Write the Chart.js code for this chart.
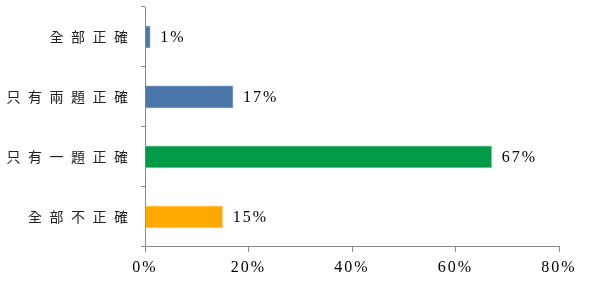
<!DOCTYPE html>
<html>
<head>
<meta charset="utf-8">
<script src="https://cdn.jsdelivr.net/npm/chart.js@4.4.0/dist/chart.umd.min.js"></script>
<style>
    html, body { margin: 0; padding: 0; background: #fff; }
    #wrap { width: 590px; height: 287px; }
</style>
</head>
<body>
<div id="wrap"><canvas id="answerChart"></canvas></div>
<script>
const categories = ["全部正確", "只有兩題正確", "只有一題正確", "全部不正確"];
const percents = [1, 17, 67, 15];
const barColors = ["#4a76aa", "#4a76aa", "#009a49", "#ffa800"];
const borderColors = ["#7d9fc8", "#7d9fc8", "#7fcf9f", "#ffd27a"];
const xTicks = [0, 20, 40, 60, 80];

// a bit of letter spacing, like the original
const spacing = {
    id: "spacing",
    beforeDraw(chart) {
        chart.ctx.letterSpacing = "2px";
    },
};

// draws "17%" etc. to the right of each bar
const valueLabels = {
    id: "valueLabels",
    afterDatasetsDraw(chart) {
        const ctx = chart.ctx;
        const meta = chart.getDatasetMeta(0);
        ctx.save();
        ctx.font = "16px 'Liberation Serif'";
        ctx.fillStyle = "#000";
        ctx.textBaseline = "middle";
        ctx.textAlign = "left";
        meta.data.forEach((bar, i) => {
            ctx.fillText(percents[i] + "%", bar.x + 10, bar.y + 1);
        });
        ctx.restore();
    },
};

new Chart(document.getElementById("answerChart"), {
    type: "bar",
    data: {
        labels: categories,
        datasets: [
            {
                data: percents,
                backgroundColor: barColors,
                borderColor: borderColors,
                borderWidth: 1,
                barThickness: 22,
            },
        ],
    },
    options: {
        indexAxis: "y",
        responsive: true,
        maintainAspectRatio: false,
        animation: false,
        layout: {
            padding: { top: 7, right: 31, bottom: 4, left: 0 },
        },
        scales: {
            x: {
                min: 0,
                max: 80,
                afterBuildTicks: (axis) => {
                    axis.ticks = xTicks.map((v) => ({ value: v }));
                },
                grid: {
                    drawOnChartArea: false,
                    drawTicks: true,
                    tickLength: 5,
                    color: "#888",
                },
                border: { color: "#888", width: 1 },
                ticks: {
                    callback: (v) => v + "%",
                    color: "#000",
                    padding: 6,
                    font: { family: "'Liberation Serif'", size: 16 },
                    maxRotation: 0,
                },
            },
            y: {
                offset: true,
                grid: {
                    offset: true,
                    drawOnChartArea: false,
                    drawTicks: true,
                    tickLength: 4,
                    color: "#888",
                },
                border: { color: "#888", width: 1 },
                ticks: {
                    callback: function (value) {
                        return Array.from(this.getLabelForValue(value)).join("\u2005");
                    },
                    color: "#222",
                    padding: 11,
                    font: { family: "'Noto Sans CJK TC'", size: 14 },
                },
                afterFit: (axis) => {
                    axis.width = 145;
                    axis.paddingTop = 0;
                    axis.paddingBottom = 0;
                },
            },
        },
        plugins: {
            legend: { display: false },
            tooltip: { enabled: false },
        },
    },
    plugins: [spacing, valueLabels],
});
</script>
</body>
</html>
